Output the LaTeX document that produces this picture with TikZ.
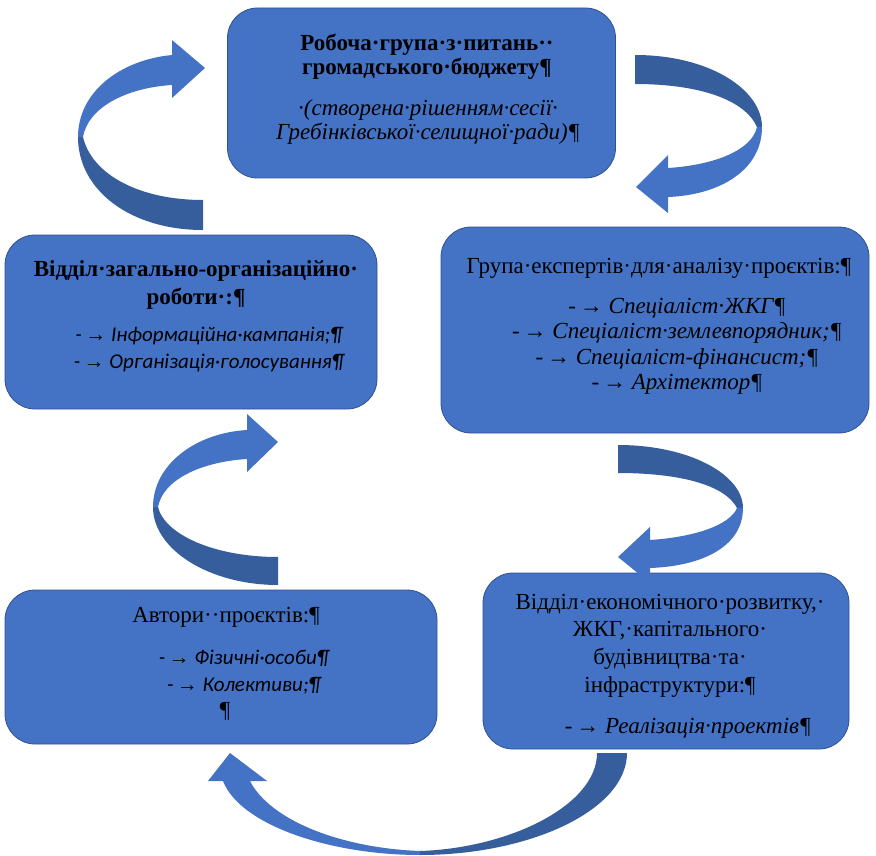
\documentclass[tikz,border=0pt]{standalone}
\usepackage{fontspec}
\setmainfont{Liberation Serif}
\newfontfamily\calfont{Carlito}
\usetikzlibrary{positioning}
\definecolor{BoxBlue}{HTML}{4472C4}
\definecolor{BoxEdge}{HTML}{2F528F}
\definecolor{FoldBlue}{HTML}{365E9C}
\newcommand{\tabarr}{-\,{\rmfamily\upshape →}\ }

\begin{document}
\begin{tikzpicture}[x=1pt, y=-1pt,
  box/.style={draw=BoxEdge, fill=BoxBlue, rounded corners=30pt,
    line width=0.8pt, inner sep=0pt},
  ttlbold/.style={font=\fontsize{23}{24}\selectfont\bfseries, align=center, inner sep=0pt},
  ttl/.style={font=\fontsize{23}{27}\selectfont, align=center, inner sep=0pt},
  itm/.style={font=\fontsize{23}{25.5}\selectfont\itshape, align=center, inner sep=0pt},
  itmsans/.style={font=\fontsize{21}{27}\selectfont\calfont\itshape, align=center, inner sep=0pt},
  litepart/.style={fill=BoxBlue},
  foldpart/.style={fill=FoldBlue}
]
\useasboundingbox (0,0) rectangle (876,856);

% boxes
\node[box, minimum width=388pt, minimum height=170pt] (robocha) at (421.5,93) {};
\node[box, minimum width=372pt, minimum height=174pt] (zahal) at (191,322) {};
\node[box, minimum width=428pt, minimum height=206pt] (ekspert) at (655,330) {};
\node[box, minimum width=432pt, minimum height=154pt] (avtory) at (221,667) {};
\node[box, minimum width=366pt, minimum height=176pt] (ekonom) at (666,661) {};

% texts
\node[ttlbold] (robocha-t) at (427,57) {Робоча·група·з·питань··\\громадського·бюджету¶};
\node[itm, font=\fontsize{23}{24}\selectfont\itshape] (robocha-s) at (428,122)
  {·(створена·рішенням·сесії·\\Гребінківської·селищної·ради)¶};

\node[ttlbold, font=\fontsize{23}{28}\selectfont\bfseries] (zahal-t) at (196,285)
  {Відділ·загально-організаційно·\\роботи·:¶};
\node[itmsans] (zahal-s) at (209,350)
  {\tabarr Інформаційна·кампанія;¶\\\tabarr Організація·голосування¶};

\node[ttl] (ekspert-t) at (659,268) {Група·експертів·для·аналізу·проєктів:¶};
\node[itm] (ekspert-s) at (677,346.5)
  {\tabarr Спеціаліст·ЖКГ¶\\\tabarr Спеціаліст·землевпорядник;¶\\
   \tabarr Спеціаліст-фінансист;¶\\\tabarr Архітектор¶};

\node[ttl] (avtory-t) at (226,617) {Автори··проєктів:¶};
\node[itmsans] (avtory-s) at (244,672.5)
  {\tabarr Фізичні·особи¶\\\tabarr Колективи;¶};
\node[ttl] (avtory-p) at (225,711) {¶};

\node[ttl, font=\fontsize{23}{27.7}\selectfont] (ekonom-t) at (670,645.5)
  {Відділ·економічного·розвитку,·\\ЖКГ,·капітального·\\будівництва·та·\\інфраструктури:¶};
\node[itm] (ekonom-s) at (688,728) {\tabarr Реалізація·проектів¶};

% curved arrows, top left
\fill[foldpart] (203,230) .. controls (130,230) and (78,190) .. (78,137)
  -- (83,137) .. controls (92,175) and (140,200) .. (203,200) -- cycle;
\fill[litepart] (78,137) .. controls (78,92) and (120,60) .. (172,55)
  -- (172,40) -- (205,68) -- (172,98) -- (172,85)
  .. controls (125,88) and (88,108) .. (83,137) -- cycle;

% top right
\fill[foldpart] (635,55) .. controls (710,55) and (762,90) .. (762,127)
  -- (757,127) .. controls (745,100) and (700,84) .. (635,84) -- cycle;
\fill[litepart] (762,127) .. controls (762,170) and (720,195) .. (668,197)
  -- (668,213) -- (636,187) -- (668,155) -- (668,168)
  .. controls (715,165) and (752,150) .. (757,127) -- cycle;

% right middle
\fill[foldpart] (618,445) .. controls (690,445) and (743,475) .. (743,508)
  -- (737,508) .. controls (725,485) and (680,473) .. (618,473) -- cycle;
\fill[litepart] (743,508) .. controls (743,545) and (705,566) .. (650,568)
  -- (650,583) -- (618,557) -- (650,527) -- (650,540)
  .. controls (695,537) and (730,525) .. (737,508) -- cycle;

% left middle
\fill[foldpart] (153,507) .. controls (153,550) and (210,585) .. (278,585)
  -- (278,557) .. controls (215,557) and (165,535) .. (158,507) -- cycle;
\fill[litepart] (153,507) .. controls (153,465) and (195,433) .. (247,430)
  -- (247,414) -- (278,442) -- (247,472) -- (247,459)
  .. controls (200,462) and (163,480) .. (158,507) -- cycle;

% bottom
\fill[foldpart] (627,753) .. controls (627,810) and (530,855) .. (420,855)
  -- (420,851) .. controls (510,848) and (597,805) .. (597,753) -- cycle;
\fill[litepart] (420,855) .. controls (330,855) and (240,825) .. (223,781)
  -- (208,781) -- (230,753) -- (267,781) -- (250,781)
  .. controls (270,820) and (340,848) .. (420,851) -- cycle;
\end{tikzpicture}
\end{document}
